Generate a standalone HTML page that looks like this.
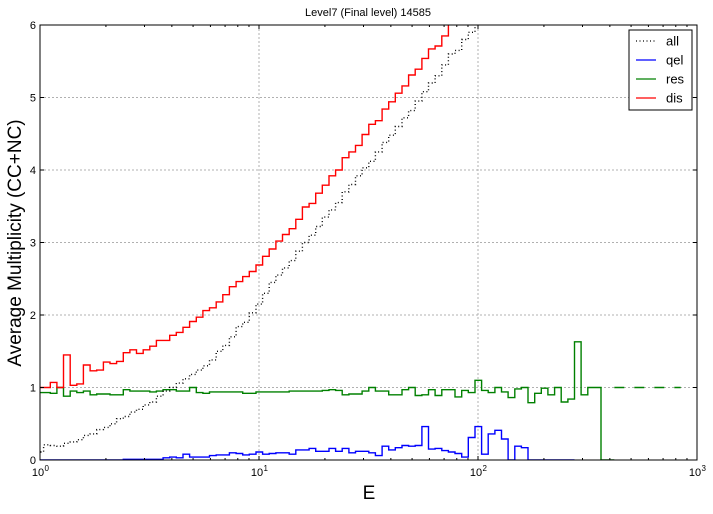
<!DOCTYPE html>
<html><head><meta charset="utf-8"><style>
body{margin:0;background:#fff;width:713px;height:509px;overflow:hidden}
text{font-family:"Liberation Sans",sans-serif}
</style></head><body>
<svg id="chart" width="713" height="509" xmlns="http://www.w3.org/2000/svg">
<defs><clipPath id="clip"><rect x="40" y="25" width="657" height="435"/></clipPath></defs>
<rect x="0" y="0" width="713" height="509" fill="#fff"/>
<g id="grid"></g>
<g id="series" clip-path="url(#clip)"></g>
<rect x="40" y="25" width="657" height="435" fill="none" stroke="#000" stroke-width="1"/>
<g id="ticks"></g>
<text x="368" y="16" font-size="11" text-anchor="middle">Level7 (Final level) 14585</text>
<text x="369" y="499" font-size="19" text-anchor="middle">E</text>
<text transform="translate(21,243) rotate(-90)" font-size="19" text-anchor="middle">Average Multiplicity (CC+NC)</text>
<g>
<rect x="629" y="30" width="63" height="80" fill="#fff" stroke="#000" stroke-width="1"/>
<line x1="636" y1="41" x2="656" y2="41" stroke="#000" stroke-dasharray="1,2.5" stroke-width="1.3"/>
<text x="666" y="45.5" font-size="13">all</text>
<line x1="636" y1="60" x2="656" y2="60" stroke="#0000ff" stroke-width="1.3"/>
<text x="666" y="64.5" font-size="13">qel</text>
<line x1="636" y1="79" x2="656" y2="79" stroke="#008000" stroke-width="1.3"/>
<text x="666" y="83.5" font-size="13">res</text>
<line x1="636" y1="98" x2="656" y2="98" stroke="#ff0000" stroke-width="1.3"/>
<text x="666" y="102.5" font-size="13">dis</text>
</g>
</svg>
<script>
const binStart = -0.0137;
const binWidth = 0.0303;
const yTicks = [0,1,2,3,4,5,6];
const xDecades = [0,1,2,3];
const disVals = [1.0,1.0,1.07,1.0,1.45,1.03,1.05,1.31,1.23,1.24,1.35,1.33,1.36,1.48,1.52,1.47,1.52,1.57,1.65,1.65,1.72,1.76,1.83,1.91,1.97,2.06,2.10,2.18,2.28,2.39,2.46,2.53,2.60,2.69,2.81,2.91,3.02,
3.11,3.19,3.32,3.49,3.54,3.68,3.79,3.92,4.0,4.17,4.25,4.34,4.49,4.63,4.68,4.84,4.94,5.06,5.16,5.31,5.39,5.54,5.67,5.71,5.85,
6.1,6.2,6.3,6.4,6.5,6.6,6.7,6.8,6.9,7.0,7.1,7.2,7.3,7.4,7.5,7.6,7.7,7.8,7.9,8.0,8.1,8.2,8.3];
const allVals = [0.11,0.21,0.2,0.19,0.23,0.25,0.28,0.34,0.36,0.42,0.45,0.5,0.57,0.6,0.66,0.7,0.76,0.8,0.88,0.95,1.0,1.06,1.12,1.18,1.24,1.3,1.38,1.5,1.58,1.7,1.84,1.9,2.03,2.15,2.3,2.45,2.55,2.65,2.75,2.88,3.0,3.1,3.22,3.35,3.45,3.55,3.7,3.8,3.92,4.03,4.12,4.25,4.38,4.48,4.6,4.72,4.82,4.95,5.08,5.2,5.3,5.45,5.6,5.65,5.8,5.9,6.05,6.2,6.3,6.4];
const resVals = [0.93,0.93,0.92,1.0,0.88,0.95,0.93,0.95,0.9,0.91,0.91,0.9,0.9,0.97,0.95,0.95,0.95,0.94,0.95,0.97,0.97,0.95,0.95,1.0,0.93,0.92,0.94,0.94,0.94,0.94,0.94,0.92,0.92,0.94,0.94,0.94,
0.94,0.94,0.95,0.95,0.95,0.95,0.95,0.96,0.97,0.96,0.90,0.91,0.91,0.95,1.0,0.95,0.95,0.90,0.90,0.97,1.0,0.89,0.90,0.97,0.89,0.97,0.97,0.87,0.96,0.93,1.1,
0.96,0.93,1.0,0.94,0.86,0.98,1.0,0.79,0.92,0.99,0.9,1.0,0.80,0.84,1.63,0.9,1.0,1.0,0,0];
const resTailStart = 87;
const resTailVals = [1,1,1,1,1,1,1,1,1,1];
const qelVals = [0,0,0,0,0,0,0,0,0,0,0,0,0,0.01,0.01,0.01,0.01,0.01,0.01,0.03,0.04,0.03,0.08,0.04,0.04,0.04,0.06,0.07,0.07,0.1,0.09,0.07,0.08,0.11,0.08,0.09,0.1,0.1,0.08,0.14,0.14,0.16,0.12,0.12,0.16,0.12,0.16,0.10,0.12,0.12,0.1,0.06,0.19,0.14,0.17,0.2,0.19,0.2,0.46,0.15,0.16,0.13,0.11,0.09,0.04,0.31,0.46,0.08,0.36,0.41,0.29,0,0.19,0.17,0,0,0,0,0,0,0];

const NS='http://www.w3.org/2000/svg';
const X0=40,X1=697,Y0=460,Y1=25;
function xs(logE){return X0+(logE-0)/(3-0)*(X1-X0);}
function ys(v){return Y0-(v/6)*(Y0-Y1);}
function edgeX(i){return xs(binStart+binWidth*i);}
function mk(tag,attrs,parent){const e=document.createElementNS(NS,tag);for(const k in attrs)e.setAttribute(k,attrs[k]);parent.appendChild(e);return e;}
const grid=document.getElementById('grid'),ticks=document.getElementById('ticks'),ser=document.getElementById('series');

yTicks.forEach(t=>{
  const y=ys(t);
  if(t>0&&t<6){const l=mk('line',{x1:X0,x2:X1,y1:y,y2:y,stroke:'#b0b0b0','stroke-dasharray':'2,2','stroke-width':1},grid);
  
  }
  mk('line',{x1:X0,x2:X0+4,y1:y,y2:y,stroke:'#000'},ticks);
  mk('line',{x1:X1,x2:X1-4,y1:y,y2:y,stroke:'#000'},ticks);
  const tx=mk('text',{x:X0-4,y:y+4,'font-size':11,'text-anchor':'end'},ticks);
  tx.textContent=String(t);
  
  
});
xDecades.forEach(d=>{
  const x=xs(d);
  if(d>0&&d<3){const l=mk('line',{x1:x,x2:x,y1:Y1,y2:Y0,stroke:'#b0b0b0','stroke-dasharray':'2,2','stroke-width':1},grid);
  
  }
  mk('line',{x1:x,x2:x,y1:Y0,y2:Y0-4,stroke:'#000'},ticks);
  mk('line',{x1:x,x2:x,y1:Y1,y2:Y1+4,stroke:'#000'},ticks);
  if(d<3){for(let m=2;m<10;m++){const xm=xs(d+Math.log10(m));
    mk('line',{x1:xm,x2:xm,y1:Y0,y2:Y0-2,stroke:'#000'},ticks);
    mk('line',{x1:xm,x2:xm,y1:Y1,y2:Y1+2,stroke:'#000'},ticks);}}
  const tx=mk('text',{x:x-2,y:476,'font-size':11,'text-anchor':'middle'},ticks);
  tx.textContent='10';
  
  
  const sp=mk('text',{x:x+4.5,y:471,'font-size':8},ticks);
  sp.textContent=String(d);
  
  
});

function stepPath(vals,start){
  let d='';
  vals.forEach((v,k)=>{const i=start+k;const xa=edgeX(i),xb=edgeX(i+1),y=ys(v);
    d+=(k===0?'M':'L')+xa.toFixed(1)+','+y.toFixed(1)+'L'+xb.toFixed(1)+','+y.toFixed(1);});
  return d;
}
function draw(vals,start,color,name,dash){
  const p=mk('path',{d:stepPath(vals,start),fill:'none',stroke:color,'stroke-width':1.4},ser);
  if(dash)p.setAttribute('stroke-dasharray',dash);
  
  
}
draw(qelVals,0,'#0000ff','qel-series');
draw(resVals,0,'#008000','res-series');
draw(resTailVals,resTailStart,'#008000','res-tail-series','10,10');
draw(disVals,0,'#ff0000','dis-series');
draw(allVals,0,'#000','all-series','1,2.5');
</script>
</body></html>
